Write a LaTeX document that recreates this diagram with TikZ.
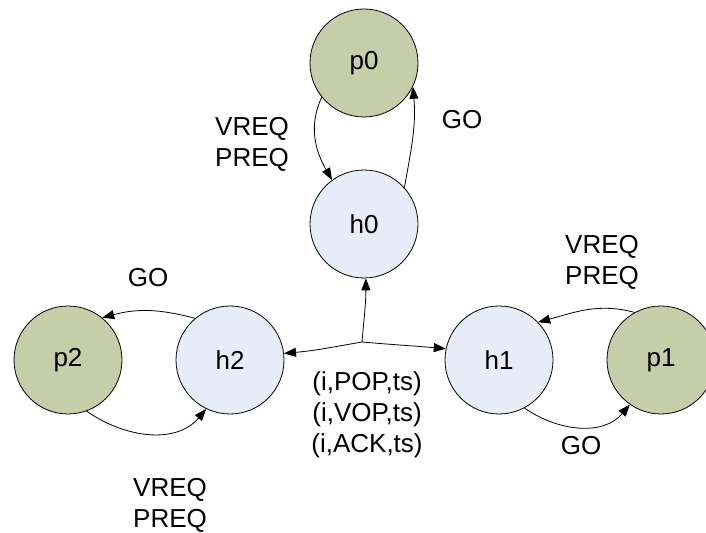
\documentclass[tikz,border=0pt]{standalone}
\usepackage{fontspec}
\setmainfont{Liberation Sans}
\usetikzlibrary{arrows.meta}

\definecolor{pfill}{RGB}{197,206,169}
\definecolor{hfill}{RGB}{230,237,248}

\tikzset{
  pnode/.style={circle,draw,thin,fill=pfill,minimum size=54pt,inner sep=0pt},
  hnode/.style={circle,draw,thin,fill=hfill,minimum size=54pt,inner sep=0pt},
  lbl/.style={align=center,inner sep=0pt},
  msg/.style={-{Triangle[length=6pt,width=4.5pt]},thin}
}

\begin{document}
\begin{tikzpicture}[x=0.5pt,y=0.5pt,font=\fontsize{13}{15.5}\selectfont]
            \useasboundingbox (0,0) rectangle (706,533);
            \clip (0,0) rectangle (706,533);

            \node[pnode] (p0) at (364, 470) {p0};
            \node[hnode] (h0) at (364, 309) {h0};
            \node[pnode] (p2) at (68, 173) {p2};
            \node[hnode] (h2) at (230, 173) {h2};
            \node[hnode] (h1) at (499, 173) {h1};
            \node[pnode] (p1) at (661, 173) {p1};

            \coordinate (hub) at (362, 191);

            \node[lbl] (l0a) at (252, 389) {VREQ\\PREQ};
            \node[lbl] (l0b) at (462, 413) {GO};
            \node[lbl] (l2a) at (148, 255) {GO};
            \node[lbl] (l2b) at (170, 28) {VREQ\\PREQ};
            \node[lbl] (l1a) at (602, 271) {VREQ\\PREQ};
            \node[lbl] (l1b) at (581, 87) {GO};
            \node[lbl] (lmsg) at (367, 118) {(i,POP,ts)\\(i,VOP,ts)\\(i,ACK,ts)};

            \draw[msg] (p0.219) to[out=245,in=120] (h0.126);
            \draw[msg] (h0.42) to[out=80,in=-85] (p0.334);

            \draw[msg] (h2.130) to[out=165,in=15] (p2.51);
            \draw[msg] (p2.290) to[out=-35,in=-130] (h2.244);

            \draw[msg] (p1.119) to[out=165,in=15] (h1.44);
            \draw[msg] (h1.298) to[out=-35,in=-130] (p1.235);

            \draw[msg] (hub) to[out=85,in=-90] (h0.272);
            \draw[msg] (hub) to[out=190,in=5] (h2.7);
            \draw[msg] (hub) to[out=-5,in=175] (h1.168);
        \end{tikzpicture}
\end{document}
